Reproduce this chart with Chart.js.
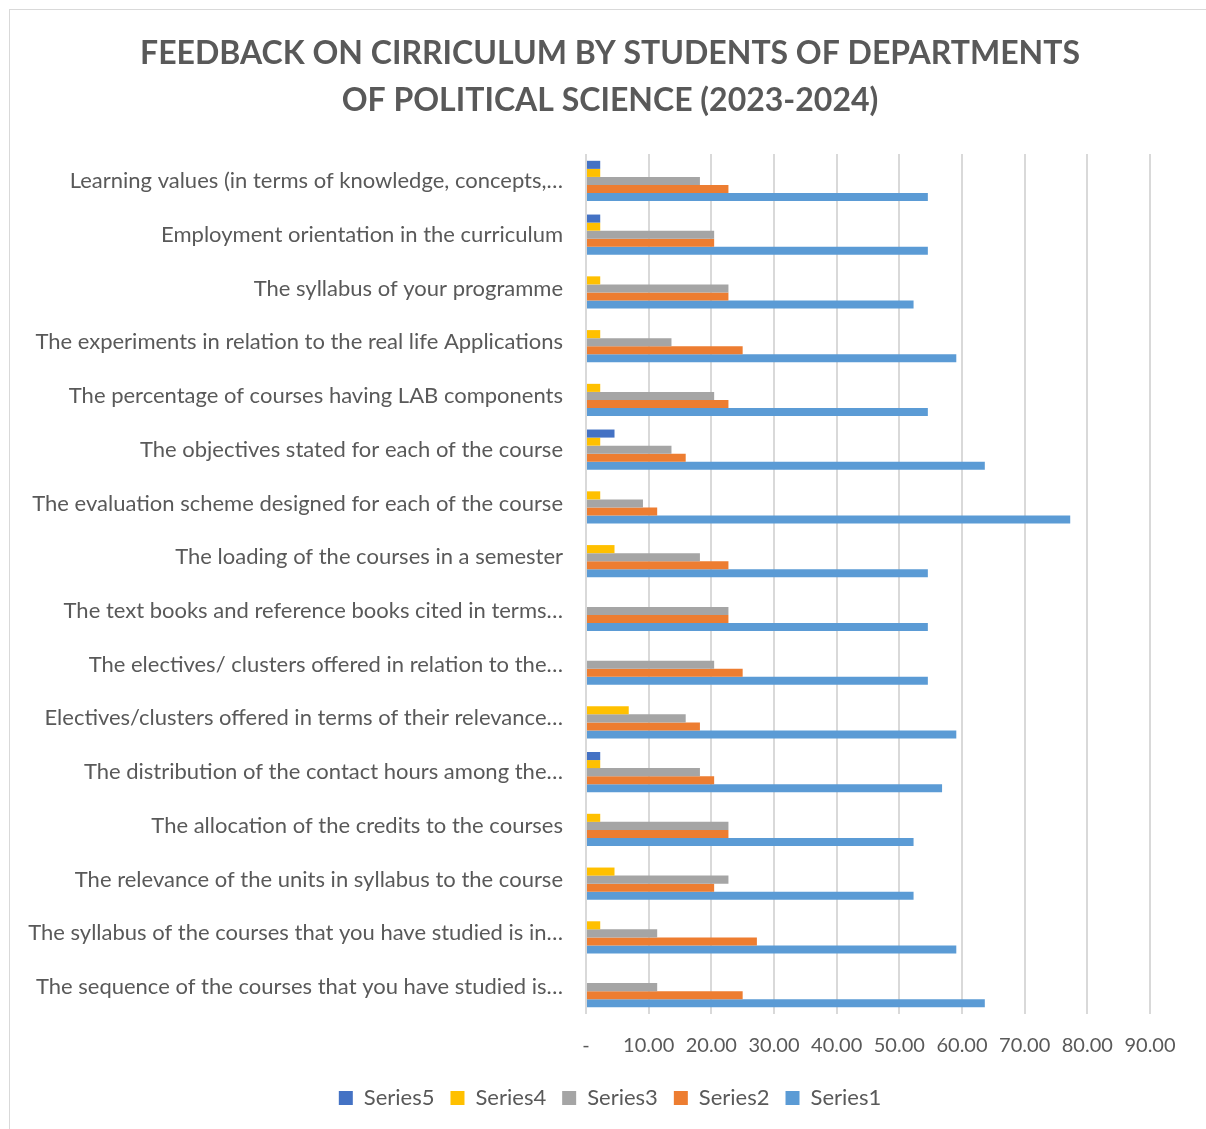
<!DOCTYPE html>
<html>
<head>
<meta charset="utf-8">
<script src="https://cdn.jsdelivr.net/npm/chart.js@4.4.0/dist/chart.umd.min.js"></script>
<style>
  html, body { margin: 0; padding: 0; background: #fff; }
  #wrap { position: relative; width: 1206px; height: 1129px; }
  #frame { position: absolute; left: 9px; top: 9px; width: 1200px; height: 1125px;
           border: 1px solid #d9d9d9; pointer-events: none; }
</style>
</head>
<body>
<div id="wrap">
  <canvas id="chart" width="1206" height="1129"></canvas>
  <div id="frame"></div>
</div>
<script>
// categories, top to bottom as shown
const categories = [
    'Learning values (in terms of knowledge, concepts,…',
    'Employment orientation in the curriculum',
    'The syllabus of your programme',
    'The experiments in relation to the real life Applications',
    'The percentage of courses having LAB components',
    'The objectives stated for each of the course',
    'The evaluation scheme designed for each of the course',
    'The loading of the courses in a semester',
    'The text books and reference books cited in terms…',
    'The electives/ clusters offered in relation to the…',
    'Electives/clusters offered in terms of their relevance…',
    'The distribution of the contact hours among the…',
    'The allocation of the credits to the courses',
    'The relevance of the units in syllabus to the course',
    'The syllabus of the courses that you have studied is in…',
    'The sequence of the courses that you have studied is…'
];

const series1 = [54.55, 54.55, 52.27, 59.09, 54.55, 63.64, 77.27, 54.55, 54.55, 54.55, 59.09, 56.82, 52.27, 52.27, 59.09, 63.64];
const series2 = [22.73, 20.45, 22.73, 25.00, 22.73, 15.91, 11.36, 22.73, 22.73, 25.00, 18.18, 20.45, 22.73, 20.45, 27.27, 25.00];
const series3 = [18.18, 20.45, 22.73, 13.64, 20.45, 13.64, 9.09, 18.18, 22.73, 20.45, 15.91, 18.18, 22.73, 22.73, 11.36, 11.36];
const series4 = [2.27, 2.27, 2.27, 2.27, 2.27, 2.27, 2.27, 4.55, 0, 0, 6.82, 2.27, 2.27, 4.55, 2.27, 0];
const series5 = [2.27, 2.27, 0, 0, 0, 4.55, 0, 0, 0, 0, 0, 2.27, 0, 0, 0, 0];

const titleLines = ['FEEDBACK ON CIRRICULUM BY STUDENTS OF DEPARTMENTS', 'OF POLITICAL SCIENCE (2023-2024)'];

const FONT = "Lato, 'Open Sans', 'Liberation Sans', sans-serif";
const textColor = '#595959';

// title and legend are centred on the whole frame in the original, not on the plot
const shiftBlocks = {
    id: 'shiftBlocks',
    afterLayout(chart) {
        [chart.titleBlock, chart.legend].forEach(b => { if (b) b.left += 60; });
    }
};

const ctx = document.getElementById('chart').getContext('2d');
new Chart(ctx, {
    type: 'bar',
    data: {
        labels: categories,
        datasets: [
            { label: 'Series5', data: series5, backgroundColor: '#4472C4' },
            { label: 'Series4', data: series4, backgroundColor: '#FFC000' },
            { label: 'Series3', data: series3, backgroundColor: '#A5A5A5' },
            { label: 'Series2', data: series2, backgroundColor: '#ED7D31' },
            { label: 'Series1', data: series1, backgroundColor: '#5B9BD5' }
        ]
    },
    plugins: [shiftBlocks],
    options: {
        indexAxis: 'y',
        responsive: false,
        animation: false,
        barPercentage: 1,
        categoryPercentage: 0.75,
        layout: { padding: { left: 10, right: 56, top: 0, bottom: 10 } },
        plugins: {
            title: {
                display: true,
                text: titleLines,
                color: textColor,
                font: { family: FONT, size: 32, weight: 'bold', lineHeight: 1.47 },
                padding: { top: 30, bottom: 30 }
            },
            legend: {
                position: 'bottom',
                labels: {
                    color: textColor,
                    font: { family: FONT, size: 22 },
                    boxWidth: 14,
                    boxHeight: 14,
                    padding: 16
                }
            },
            tooltip: { enabled: false }
        },
        scales: {
            x: {
                min: 0,
                max: 90,
                afterFit: s => { s.height = 57; },
                ticks: {
                    stepSize: 10,
                    color: textColor,
                    font: { family: FONT, size: 20 },
                    padding: 20,
                    maxRotation: 0,
                    callback: v => v === 0 ? '-' : v.toFixed(2)
                },
                grid: { color: '#d9d9d9', lineWidth: 2, drawTicks: false },
                border: { display: false }
            },
            y: {
                afterFit: s => { s.width = 576; },
                ticks: {
                    color: textColor,
                    font: { family: FONT, size: 22 },
                    padding: 23,
                    autoSkip: false
                },
                grid: { display: false, drawTicks: false },
                border: { display: false }
            }
        }
    }
});
</script>
</body>
</html>
